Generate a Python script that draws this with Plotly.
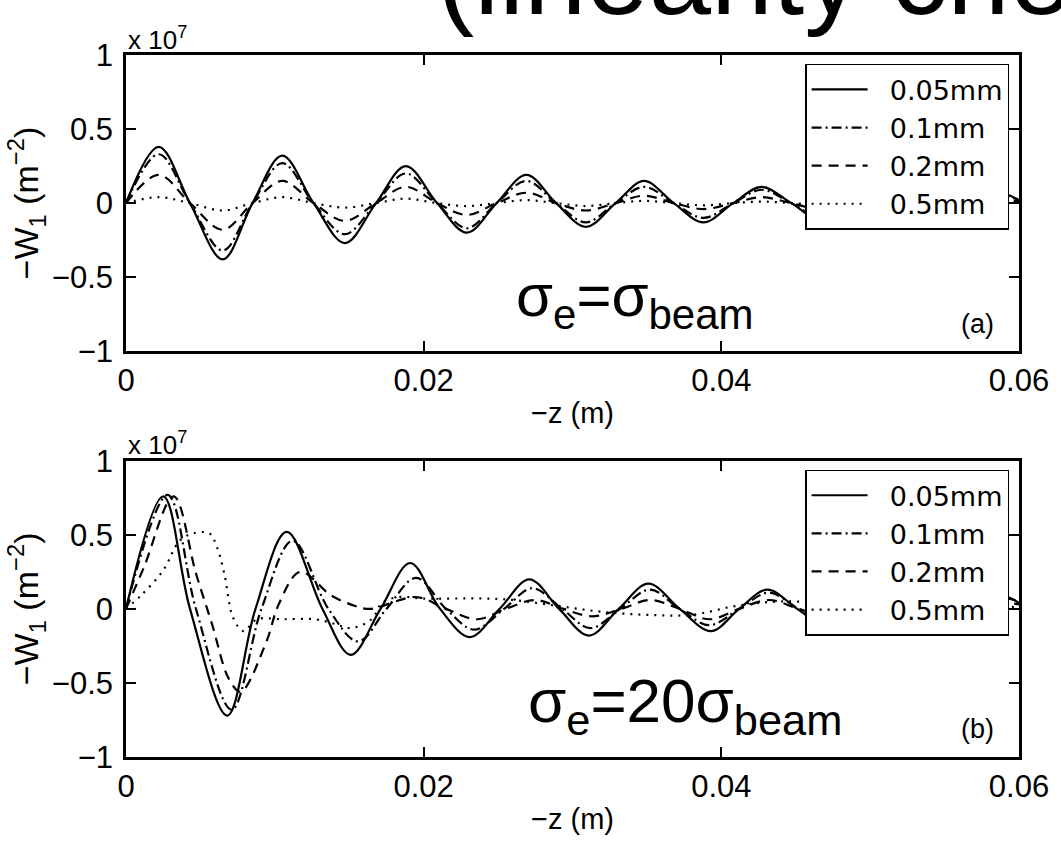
import plotly.graph_objects as go

# ---------------- data (values in units of 1e7 m^-2) ----------------
series_names = ["0.05mm", "0.1mm", "0.2mm", "0.5mm"]

# (a) sigma_e = sigma_beam : all curves in phase
z_a = [0, 0.0022, 0.0043, 0.0065, 0.0085, 0.0105, 0.0126, 0.0147, 0.0168, 0.0188,
       0.0209, 0.0229, 0.0249, 0.0269, 0.0289, 0.0309, 0.0329, 0.0348, 0.0368, 0.0388,
       0.0408, 0.0427, 0.0447, 0.0466, 0.0486, 0.0505, 0.0525, 0.0544, 0.0564, 0.0583, 0.0600]
w_a_005 = [0, 0.38, 0, -0.38, 0, 0.32, 0, -0.27, 0, 0.25, 0, -0.20, 0, 0.19, 0, -0.16,
           0, 0.15, 0, -0.13, 0, 0.11, 0, -0.11, 0, 0.10, 0, -0.09, 0, 0.08, 0.02]
w_a_01 = [0, 0.33, 0, -0.32, 0, 0.27, 0, -0.21, 0, 0.20, 0, -0.17, 0, 0.15, 0, -0.13,
          0, 0.11, 0, -0.10, 0, 0.09, 0, -0.09, 0, 0.08, 0, -0.07, 0, 0.06, 0.02]
w_a_02 = [0, 0.19, 0, -0.18, 0, 0.15, 0, -0.12, 0, 0.11, 0, -0.08, 0, 0.07, 0, -0.05,
          0, 0.05, 0, -0.04, 0, 0.04, 0, -0.04, 0, 0.03, 0, -0.03, 0, 0.03, 0.01]
w_a_05 = [0, 0.04, 0, -0.05, 0, 0.04, 0, -0.03, 0, 0.03, 0, -0.02, 0, 0.02, 0, -0.02,
          0, 0.015, 0, -0.015, 0, 0.01, 0, -0.01, 0, 0.01, 0, -0.01, 0, 0.01, 0.005]

# (b) sigma_e = 20 sigma_beam
z_b_005 = [0, 0.0025, 0.0043, 0.0068, 0.0087, 0.0108, 0.0132, 0.0151, 0.0171, 0.0191,
           0.0211, 0.0231, 0.0251, 0.0271, 0.0291, 0.0311, 0.0331, 0.0351, 0.0372, 0.0393,
           0.0412, 0.0431, 0.0451, 0.0471, 0.0490, 0.0510, 0.0529, 0.0549, 0.0568, 0.0588, 0.0600]
w_b_005 = [0, 0.76, 0, -0.72, 0, 0.52, 0, -0.31, 0, 0.31, 0, -0.19, 0, 0.20, 0, -0.18,
           0, 0.17, 0, -0.15, 0, 0.13, 0, -0.12, 0, 0.11, 0, -0.10, 0, 0.09, 0.04]

z_b_01 = [0, 0.0028, 0.0047, 0.0071, 0.0091, 0.0112, 0.0136, 0.0156, 0.0175, 0.0195,
          0.0215, 0.0234, 0.0254, 0.0273, 0.0293, 0.0312, 0.0332, 0.0352, 0.0372, 0.0392,
          0.0412, 0.0432, 0.0452, 0.0471, 0.0490, 0.0510, 0.0530, 0.0550, 0.0570, 0.0590, 0.0600]
w_b_01 = [0, 0.77, 0, -0.68, 0, 0.46, 0, -0.22, 0, 0.21, 0, -0.14, 0, 0.14, 0, -0.13,
          0, 0.13, 0, -0.11, 0, 0.11, 0, -0.09, 0, 0.09, 0, -0.08, 0, 0.07, 0.05]

z_b_02 = [0, 0.0012, 0.0032, 0.0047, 0.0058, 0.0069, 0.0077, 0.0094, 0.0103, 0.0117,
          0.0138, 0.0154, 0.0164, 0.0195, 0.0215, 0.0236, 0.0255, 0.0275, 0.0294, 0.0313,
          0.0333, 0.0352, 0.0372, 0.0392, 0.0412, 0.0432, 0.0452, 0.0471, 0.0491, 0.0510,
          0.0530, 0.0550, 0.0570, 0.0590, 0.0600]
w_b_02 = [0, 0.28, 0.76, 0.24, -0.11, -0.47, -0.56, -0.23, 0.04, 0.25,
          0.09, 0.02, 0.0, 0.08, 0.0, -0.07, 0.0, 0.06, 0.0, -0.05,
          0.0, 0.06, 0.0, -0.07, 0.0, 0.06, 0.0, -0.05, 0.0, 0.05,
          0.0, -0.04, 0.0, 0.04, 0.03]

z_b_05 = [0, 0.0010, 0.0025, 0.0036, 0.0045, 0.0056, 0.0061, 0.0066, 0.0072, 0.0079,
          0.0088, 0.0105, 0.0127, 0.0140, 0.0151, 0.0165, 0.0172, 0.0183, 0.0200, 0.0240,
          0.0260, 0.0290, 0.0320, 0.0350, 0.0380, 0.0410, 0.0440, 0.0480, 0.0520, 0.0560, 0.0600]
w_b_05 = [0, 0.09, 0.26, 0.46, 0.51, 0.51, 0.42, 0.24, -0.06, -0.15,
          -0.07, -0.07, -0.07, -0.10, -0.13, -0.07, 0.04, 0.08, 0.07, 0.07,
          0.06, 0.02, -0.02, -0.04, -0.04, 0.02, 0.05, 0.03, -0.02, -0.03, 0.02]

x_ticks = [0, 0.02, 0.04, 0.06]
x_ticklabels = ["0", "0.02", "0.04", "0.06"]
y_ticks = [-1, -0.5, 0, 0.5, 1]
y_ticklabels = ["\u22121", "\u22120.5", "0", "0.5", "1"]

# ---------------- layout helpers ----------------
W, H = 1061, 842
L, R, T, B = 126, 34, 55, 76
PW, PH = W - L - R, H - T - B


def px_x(px):
    return (px - L) / PW


def px_y(py):
    return (H - B - py) / PH


FONT = "Liberation Sans, Arial, Helvetica, sans-serif"
LFONT = "DejaVu Sans, Liberation Sans, sans-serif"
styles = [
    dict(color="black", width=2.2, dash="solid"),
    dict(color="black", width=2.2, dash="10px,4px,2px,4px"),
    dict(color="black", width=2.2, dash="10px,7px"),
    dict(color="black", width=2.2, dash="2px,6px"),
]

fig = go.Figure()

panel_a = [(z_a, w_a_005), (z_a, w_a_01), (z_a, w_a_02), (z_a, w_a_05)]
panel_b = [(z_b_005, w_b_005), (z_b_01, w_b_01), (z_b_02, w_b_02), (z_b_05, w_b_05)]

PAD = "\u00a0\u00a0"
for i, (zz, ww) in enumerate(panel_a):
    fig.add_trace(go.Scatter(x=zz, y=ww, mode="lines", name=PAD + series_names[i],
                             line=dict(shape="spline", smoothing=1.0, **styles[i]),
                             xaxis="x", yaxis="y", legend="legend"))
for i, (zz, ww) in enumerate(panel_b):
    fig.add_trace(go.Scatter(x=zz, y=ww, mode="lines", name=PAD + series_names[i],
                             line=dict(shape="spline", smoothing=1.0, **styles[i]),
                             xaxis="x2", yaxis="y2", legend="legend2"))

axis_common = dict(
    showgrid=False, zeroline=False, showline=True, linecolor="black", linewidth=2.5,
    mirror="allticks", ticks="inside", ticklen=10, tickwidth=1.5, tickcolor="black",
    tickfont=dict(family=FONT, size=31, color="black"),
)

top_dom = [px_y(355), px_y(55)]
bot_dom = [px_y(766), px_y(466)]

xtitle = dict(text="\u2212z (m)", font=dict(family=FONT, size=29, color="black"), standoff=6)
ytitle = dict(text="\u2212W<sub>1</sub> (m<sup>\u22122</sup>)",
              font=dict(family=FONT, size=34, color="black"), standoff=3)

legend_common = dict(xanchor="right", yanchor="top", bgcolor="white", bordercolor="black",
                     borderwidth=1.5, font=dict(family=LFONT, size=27, color="black"),
                     itemwidth=56, tracegroupgap=0)

fig.update_layout(
    width=W, height=H,
    margin=dict(l=L, r=R, t=T, b=B, pad=0),
    paper_bgcolor="white", plot_bgcolor="white",
    font=dict(family=FONT, color="black"),
    xaxis=dict(domain=[0, 1], anchor="y", range=[0, 0.06], tickvals=x_ticks,
               ticktext=x_ticklabels, title=xtitle, **axis_common),
    yaxis=dict(domain=top_dom, anchor="x", range=[-1, 1], tickvals=y_ticks,
               ticktext=y_ticklabels, title=ytitle, ticklabelstandoff=4, **axis_common),
    xaxis2=dict(domain=[0, 1], anchor="y2", range=[0, 0.06], tickvals=x_ticks,
                ticktext=x_ticklabels, title=xtitle, **axis_common),
    yaxis2=dict(domain=bot_dom, anchor="x2", range=[-1, 1], tickvals=y_ticks,
                ticktext=y_ticklabels, title=ytitle, ticklabelstandoff=4, **axis_common),
    legend=dict(x=px_x(1017), y=px_y(64), **legend_common),
    legend2=dict(x=px_x(1017), y=px_y(475), **legend_common),
    showlegend=True,
)

ann = []
ann.append(dict(text="(linearity check)", x=px_x(438), y=px_y(-26), xref="paper", yref="paper",
                xanchor="left", yanchor="middle", showarrow=False,
                font=dict(family=FONT, size=112, color="black")))
for yy in (38, 448):
    ann.append(dict(text="x 10<sup>7</sup>", x=px_x(126), y=px_y(yy), xref="paper", yref="paper",
                    xanchor="left", yanchor="middle", showarrow=False,
                    font=dict(family=FONT, size=26, color="black")))
ann.append(dict(text="\u03c3<sub>e</sub>=\u03c3<sub>beam</sub>", x=px_x(640), y=px_y(303),
                xref="paper", yref="paper", xanchor="center", yanchor="middle", showarrow=False,
                font=dict(family=FONT, size=60, color="black")))
ann.append(dict(text="\u03c3<sub>e</sub>=20\u03c3<sub>beam</sub>", x=px_x(690), y=px_y(713),
                xref="paper", yref="paper", xanchor="center", yanchor="middle", showarrow=False,
                font=dict(family=FONT, size=62, color="black")))
ann.append(dict(text="(a)", x=px_x(985), y=px_y(327), xref="paper", yref="paper",
                xanchor="center", yanchor="middle", showarrow=False,
                font=dict(family=FONT, size=27, color="black")))
ann.append(dict(text="(b)", x=px_x(985), y=px_y(738), xref="paper", yref="paper",
                xanchor="center", yanchor="middle", showarrow=False,
                font=dict(family=FONT, size=27, color="black")))
fig.update_layout(annotations=ann)

fig.write_html("out.html")
